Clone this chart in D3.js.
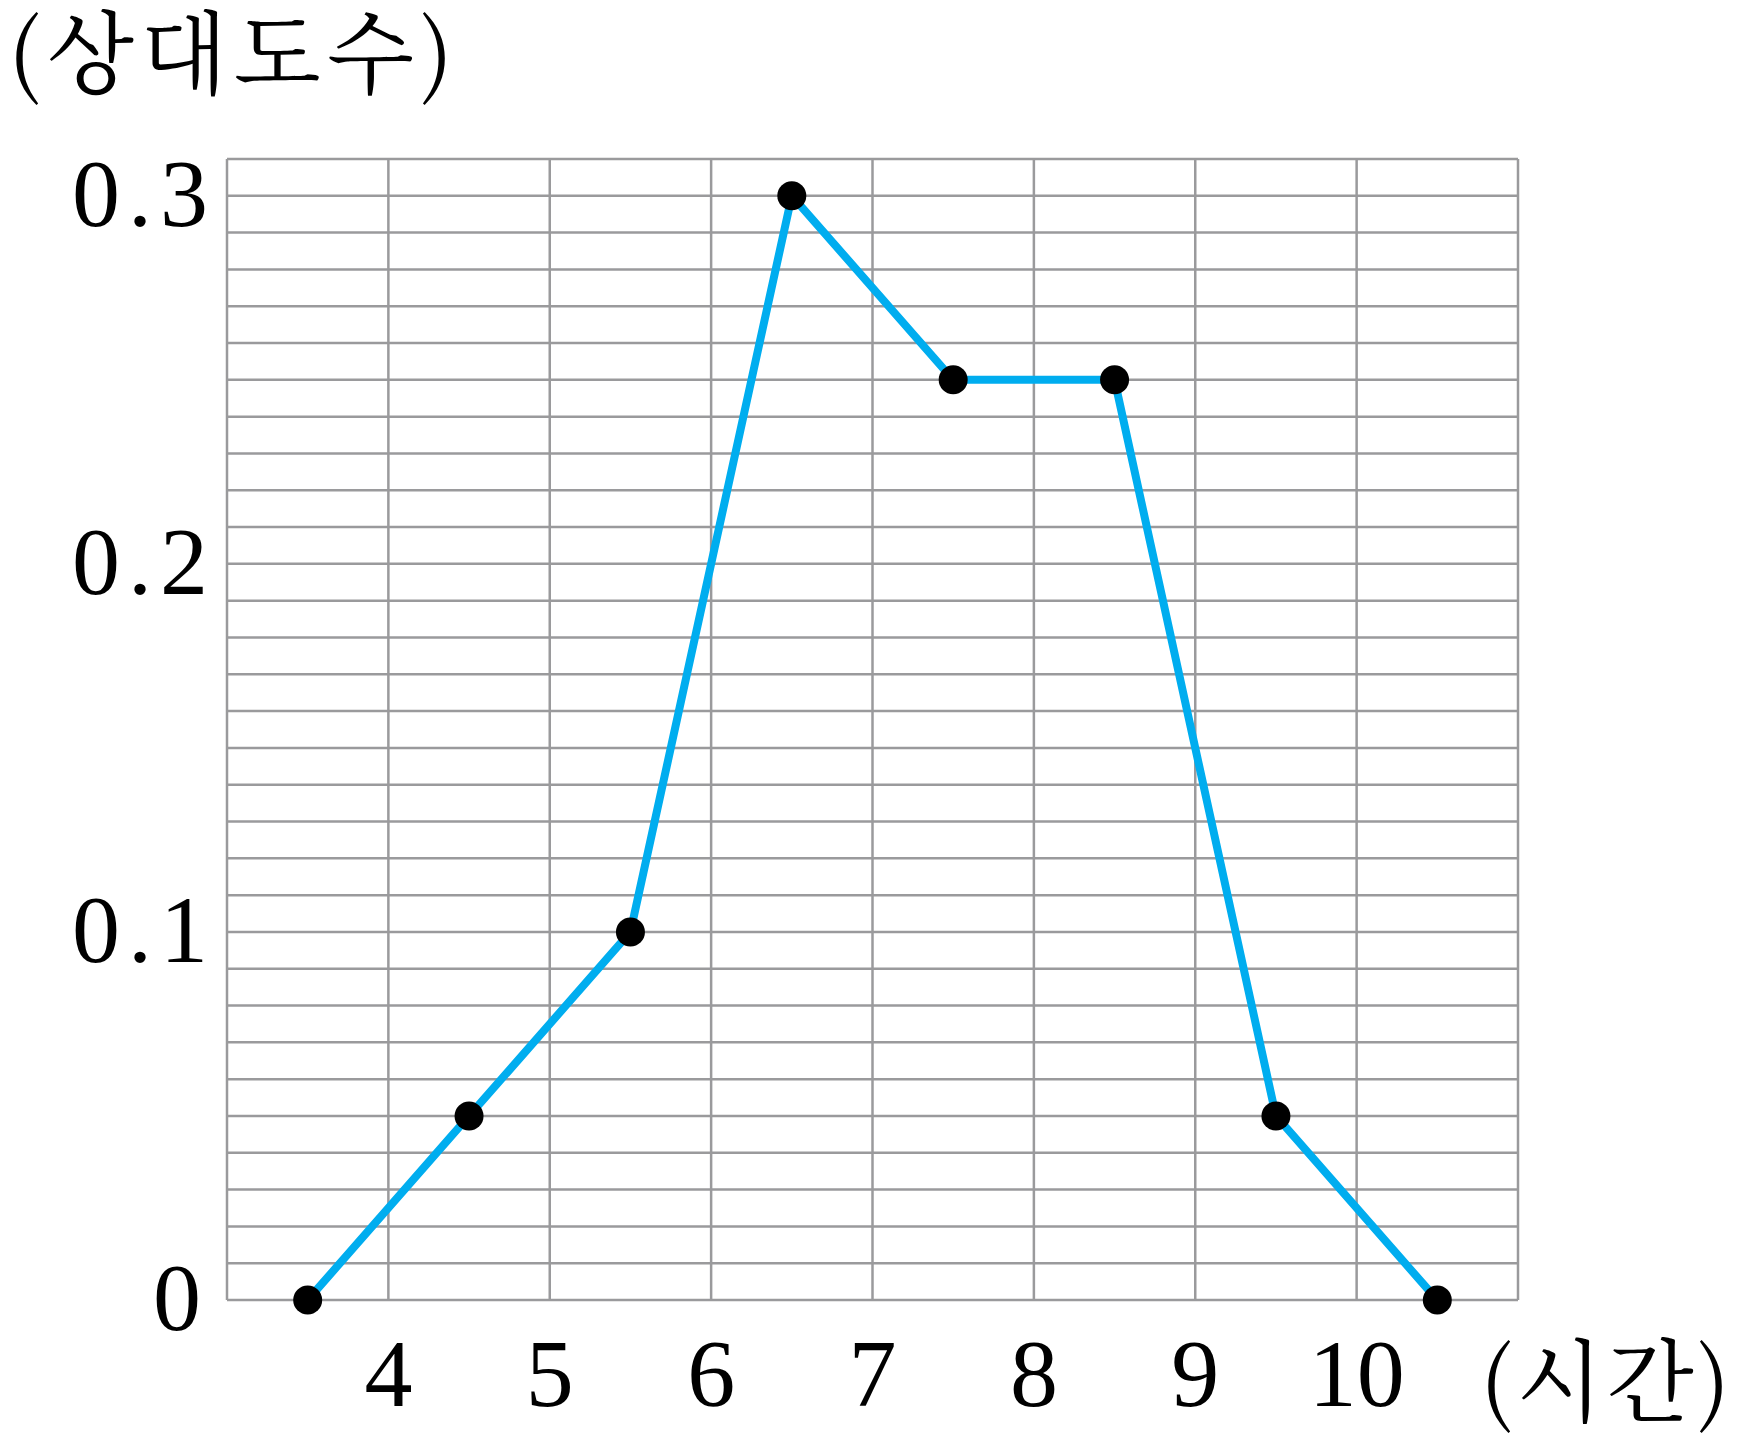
<!DOCTYPE html>
<html>
<head>
<meta charset="utf-8">
<script src="https://cdn.jsdelivr.net/npm/d3@7"></script>
<style>
  html, body { margin: 0; padding: 0; background: #fff; }
  svg { display: block; }
</style>
</head>
<body>
<svg id="chart" width="1737" height="1443"></svg>
<script>
// Data
const hours = [3.5, 4.5, 5.5, 6.5, 7.5, 8.5, 9.5, 10.5];
const relFreq = [0, 0.05, 0.1, 0.3, 0.25, 0.25, 0.05, 0];
const xTicks = [4, 5, 6, 7, 8, 9, 10];
const yTicks = [0, 0.1, 0.2, 0.3];
const yTickLabels = ["0", "0.1", "0.2", "0.3"];
const yAxisTitle = "(상대도수)";
const xAxisTitle = "(시간)";

(function () {
const svg = d3.select("#chart");
const pL = 227, pR = 1518, pT = 159, pB = 1300;

const x = d3.scaleLinear().domain([3, 11]).range([pL, pR]);
const y = d3.scaleLinear().domain([0, 0.31]).range([pB, pT]);

const gridColor = "#9a9a9c";
const numFont = "'Liberation Serif', 'DejaVu Serif', serif";
const krFont = "'Noto Serif CJK KR', 'Noto Sans CJK KR', sans-serif";

// Horizontal grid lines every 0.01
const hLines = d3.range(0, 32).map(i => i / 100);
svg.append("g").selectAll("line").data(hLines).join("line")
  .attr("x1", pL).attr("x2", pR)
  .attr("y1", d => y(d)).attr("y2", d => y(d))
  .attr("stroke", gridColor).attr("stroke-width", 2.5);

// Vertical grid lines every 1
const vLines = d3.range(3, 12);
svg.append("g").selectAll("line").data(vLines).join("line")
  .attr("x1", d => x(d)).attr("x2", d => x(d))
  .attr("y1", pT).attr("y2", pB)
  .attr("stroke", gridColor).attr("stroke-width", 2.5);

// Line
const line = d3.line().x((d, i) => x(hours[i])).y(d => y(d));
svg.append("path")
  .datum(relFreq)
  .attr("d", line)
  .attr("fill", "none")
  .attr("stroke", "#00adef")
  .attr("stroke-width", 8)
  .attr("stroke-linejoin", "miter");

// Dots
svg.append("g").selectAll("circle").data(relFreq).join("circle")
  .attr("cx", (d, i) => x(hours[i]))
  .attr("cy", d => y(d))
  .attr("r", 14.5)
  .attr("fill", "#000");

// Y tick labels
svg.append("g").selectAll("text").data(yTicks).join("text")
  .attr("x", (d, i) => yTickLabels[i].length > 1 ? 216 : 209)
  .attr("y", d => y(d) + 30)
  .attr("text-anchor", "end")
  .attr("font-family", numFont)
  .attr("font-size", 96)
  .attr("letter-spacing", 8)
  .attr("fill", "#000")
  .text((d, i) => yTickLabels[i]);

// X tick labels
svg.append("g").selectAll("text").data(xTicks).join("text")
  .attr("x", d => x(d))
  .attr("y", 1406)
  .attr("text-anchor", "middle")
  .attr("font-family", numFont)
  .attr("font-size", 96)
  .attr("fill", "#000")
  .text(d => d);

// Axis titles
svg.append("text")
  .attr("x", 8).attr("y", 86)
  .attr("font-family", krFont)
  .attr("font-size", 90)
  .attr("textLength", 445)
  .attr("lengthAdjust", "spacing")
  .attr("fill", "#000")
  .text(yAxisTitle);

svg.append("text")
  .attr("x", 1480).attr("y", 1414)
  .attr("font-family", krFont)
  .attr("font-size", 90)
  .attr("textLength", 250)
  .attr("lengthAdjust", "spacing")
  .attr("fill", "#000")
  .text(xAxisTitle);
})();
</script>
</body>
</html>
